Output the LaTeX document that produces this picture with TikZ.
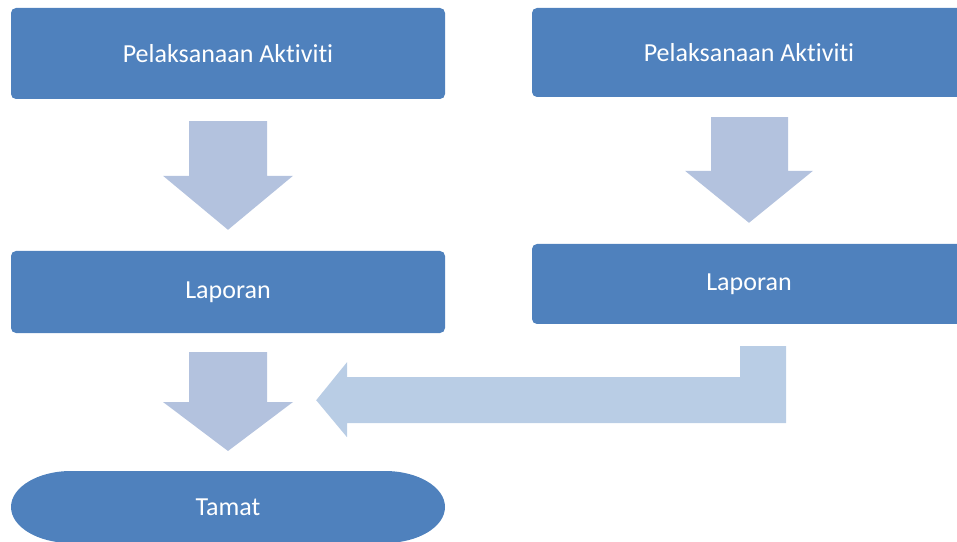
\documentclass[tikz,border=0pt]{standalone}
\usepackage{fontspec}
\setmainfont{Carlito}[Ligatures={NoCommon}]
\usetikzlibrary{calc}
\definecolor{boxblue}{RGB}{79,129,189}
\definecolor{arrowblue}{RGB}{179,194,222}
\definecolor{bentblue}{RGB}{185,205,229}
\tikzset{
  stepbox/.style={fill=boxblue, rounded corners=5pt, text=white,
    minimum width=434pt, inner sep=0pt, font=\fontsize{26}{30}\selectfont},
  downblock/.style={fill=arrowblue},
  sideblock/.style={fill=bentblue},
}
\begin{document}
\begin{tikzpicture}[x=1pt,y=1pt]
  \useasboundingbox (0,0) rectangle (957,541);
  \clip (0,0) rectangle (957,541);

  % process boxes
  \node[stepbox, minimum height=91pt] (pa1) at (228,487.5) {Pelaksanaan Aktiviti};
  \node[stepbox, minimum height=89pt] (pa2) at (749,488.5) {Pelaksanaan Aktiviti};
  \node[stepbox, minimum height=82pt] (lap1) at (228,249) {Laporan};
  \node[stepbox, minimum height=80pt] (lap2) at (749,257) {Laporan};

  % terminator with elliptical ends
  \coordinate (tc) at (228,34);
  \fill[boxblue] ($(tc)+(-157,36)$) -- ($(tc)+(157,36)$)
    arc[start angle=90, end angle=-90, x radius=60, y radius=36]
    -- ($(tc)+(-157,-36)$)
    arc[start angle=270, end angle=90, x radius=60, y radius=36] -- cycle;
  \node[text=white, font=\fontsize{26}{30}\selectfont] (tamat) at (tc) {Tamat};
  \coordinate (tamattop) at ($(tc)+(0,36)$);

  % block arrows between boxes
  \fill[downblock] let \p1=(pa1.south), \p2=(lap1.north) in
    (\x1-39,\y1-22) -- (\x1+39,\y1-22) -- (\x1+39,\y2+75) -- (\x1+65,\y2+75)
    -- (\x1,\y2+21) -- (\x1-65,\y2+75) -- (\x1-39,\y2+75) -- cycle;
  \fill[downblock] let \p1=(pa2.south), \p2=(lap2.north) in
    (\x1-38,\y1-20) -- (\x1+39,\y1-20) -- (\x1+39,\y2+73) -- (\x1+64,\y2+73)
    -- (\x1,\y2+21) -- (\x1-64,\y2+73) -- (\x1-38,\y2+73) -- cycle;
  \fill[downblock] let \p1=(lap1.south), \p2=(tamattop) in
    (\x1-39,\y1-19) -- (\x1+39,\y1-19) -- (\x1+39,\y2+69) -- (\x1+65,\y2+69)
    -- (\x1,\y2+20) -- (\x1-65,\y2+69) -- (\x1-39,\y2+69) -- cycle;

  % bent arrow from the right report back to the left column
  \fill[sideblock] let \p1=(lap2.south), \p2=(lap1.east) in
    (740,\y1-22) -- (786,\y1-22) -- (786,\y1-99) -- (347,\y1-99)
    -- (347,\y1-113) -- (\x2-129,\y1-76) -- (347,\y1-38) -- (347,\y1-53)
    -- (740,\y1-53) -- cycle;
\end{tikzpicture}
\end{document}
